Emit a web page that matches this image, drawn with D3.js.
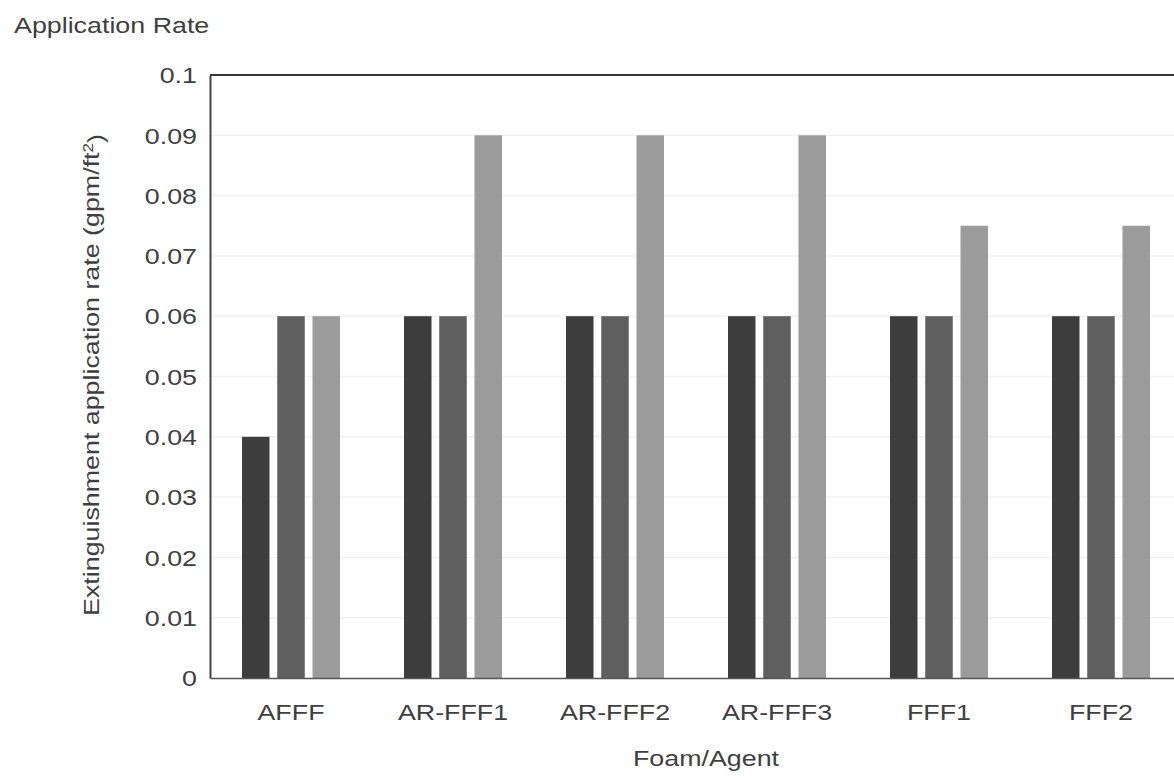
<!DOCTYPE html>
<html>
<head>
<meta charset="utf-8">
<script src="https://cdn.jsdelivr.net/npm/d3@7"></script>
<style>
  html, body { margin: 0; padding: 0; background: #fff; }
  svg text { font-family: "Liberation Sans", Arial, Helvetica, sans-serif; fill: #3f3f3f; }
</style>
</head>
<body>
<svg id="chart" width="1174" height="779"></svg>
<script>
const categories = ["AFFF", "AR-FFF1", "AR-FFF2", "AR-FFF3", "FFF1", "FFF2"];
const seriesNames = ["s1", "s2", "s3"];
const series1 = [0.04, 0.06, 0.06, 0.06, 0.06, 0.06];
const series2 = [0.06, 0.06, 0.06, 0.06, 0.06, 0.06];
const series3 = [0.06, 0.09, 0.09, 0.09, 0.075, 0.075];
const seriesColors = ["#3d3d3d", "#5f5f5f", "#9b9b9b"];
const yTickValues = [0, 0.01, 0.02, 0.03, 0.04, 0.05, 0.06, 0.07, 0.08, 0.09, 0.1];
const yTickLabels = ["0", "0.01", "0.02", "0.03", "0.04", "0.05", "0.06", "0.07", "0.08", "0.09", "0.1"];
const chartTitle = "Application Rate";
const xTitle = "Foam/Agent";

const seriesValues = [series1, series2, series3];
const rows = categories.map((c, i) => ({ cat: c, vals: seriesValues.map(s => s[i]) }));

const svg = d3.select("#chart");
const m = { left: 210, right: 1182, top: 75, bottom: 678 };
const SX = 1.22; // horizontal glyph stretch of the reference font
const FS = 22;

const x0 = d3.scaleBand().domain(categories).range([m.left, m.right])
  .paddingInner(0.395).paddingOuter(0.1975);
const x1 = d3.scaleBand().domain(seriesNames).range([0, x0.bandwidth()])
  .paddingInner(0.22).paddingOuter(0);
const y = d3.scaleLinear().domain([0, 0.1]).range([m.bottom, m.top]);

// faint gridlines
svg.append("g").selectAll("line").data(yTickValues.slice(1, -1)).join("line")
  .attr("x1", m.left).attr("x2", m.right)
  .attr("y1", d => y(d)).attr("y2", d => y(d))
  .attr("stroke", "#f1f1f1").attr("stroke-width", 1.5);

// bars
const groups = svg.append("g").selectAll("g").data(rows).join("g")
  .attr("transform", d => `translate(${x0(d.cat)},0)`);
groups.selectAll("rect").data(d => d.vals.map((v, k) => ({ v, k }))).join("rect")
  .attr("x", d => x1(seriesNames[d.k]))
  .attr("width", x1.bandwidth())
  .attr("y", d => y(d.v))
  .attr("height", d => y(0) - y(d.v))
  .attr("fill", d => seriesColors[d.k]);

// frame top
svg.append("line").attr("x1", m.left).attr("x2", m.right)
  .attr("y1", m.top).attr("y2", m.top)
  .attr("stroke", "#333").attr("stroke-width", 2);

// y axis
const yAxis = svg.append("g").attr("transform", `translate(${m.left},0)`)
  .call(d3.axisLeft(y).tickValues(yTickValues)
    .tickFormat((d, i) => yTickLabels[i]).tickSize(0).tickPadding(0));
yAxis.select(".domain").attr("stroke", "#444").attr("stroke-width", 2);
yAxis.selectAll(".tick text")
  .attr("x", 0).attr("dy", "0.35em")
  .attr("transform", `translate(-13,0) scale(${SX},1)`)
  .style("font-size", FS + "px").style("fill", "#3f3f3f")
  .attr("text-anchor", "end");

// x axis
const xAxis = svg.append("g").attr("transform", `translate(0,${m.bottom})`)
  .call(d3.axisBottom(x0).tickSize(0).tickPadding(0));
xAxis.select(".domain").attr("stroke", "#555").attr("stroke-width", 1.5);
xAxis.selectAll(".tick text")
  .attr("y", 0).attr("dy", 0)
  .attr("transform", `translate(0,42) scale(${SX},1)`)
  .style("font-size", FS + "px").style("fill", "#3f3f3f")
  .attr("text-anchor", "middle");

// titles
svg.append("text").attr("transform", `translate(14,33) scale(${SX},1)`)
  .style("font-size", FS + "px").text(chartTitle);

svg.append("text").attr("transform", `translate(706,766) scale(${SX},1)`)
  .attr("text-anchor", "middle").style("font-size", FS + "px").text(xTitle);

const yt = svg.append("text")
  .attr("transform", `translate(99,375) rotate(-90) scale(${SX},1)`)
  .attr("text-anchor", "middle").style("font-size", FS + "px");
yt.append("tspan").text("Extinguishment application rate (gpm/ft");
yt.append("tspan").attr("dy", "-0.45em").style("font-size", "14px").text("2");
yt.append("tspan").attr("dy", "0.45em").text(")");
</script>
</body>
</html>
